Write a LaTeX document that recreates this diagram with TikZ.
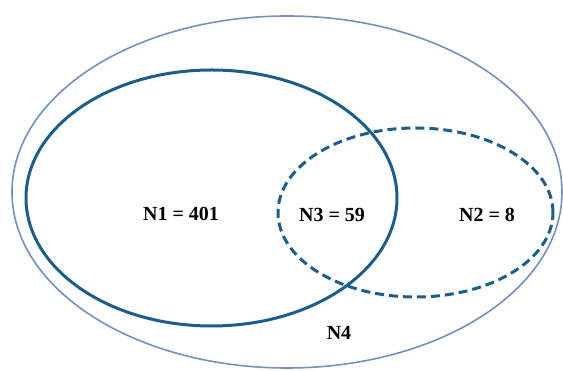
\documentclass[tikz,border=0pt]{standalone}
\usepackage{fontspec}
\setmainfont{Liberation Serif}
\usetikzlibrary{shapes.geometric}

\definecolor{setblue}{HTML}{1B5E8E}
\definecolor{universe}{HTML}{7390C2}

\tikzset{
  setshape/.style={ellipse, inner sep=0pt, fill=none},
  universeset/.style={setshape, draw=universe, line width=1.6pt},
  mainset/.style={setshape, draw=setblue, line width=3pt},
  dashedset/.style={setshape, draw=setblue, line width=3pt, dash pattern=on 9pt off 5pt},
  setlabel/.style={font=\fontsize{20}{24}\selectfont\bfseries, text=black, inner sep=0pt}
}

\begin{document}
\begin{tikzpicture}[x=1pt, y=1pt]
  \useasboundingbox (0,0) rectangle (563,371);

  % outer universe and the two sets
  \node[universeset, minimum width=550pt, minimum height=352pt] (u) at (287,179) {};
  \node[mainset, minimum width=371pt, minimum height=256pt] (s1) at (211.5,173) {};
  \node[dashedset, minimum width=275pt, minimum height=169pt] (s2) at (415.5,158.5) {};

  % counts
  \node[setlabel] (l1) at (181,157) {N1 = 401};
  \node[setlabel] (l3) at (332,156) {N3 = 59};
  \node[setlabel] (l2) at (487,156) {N2 = 8};
  \node[setlabel] (l4) at (339,38) {N4};
\end{tikzpicture}
\end{document}
